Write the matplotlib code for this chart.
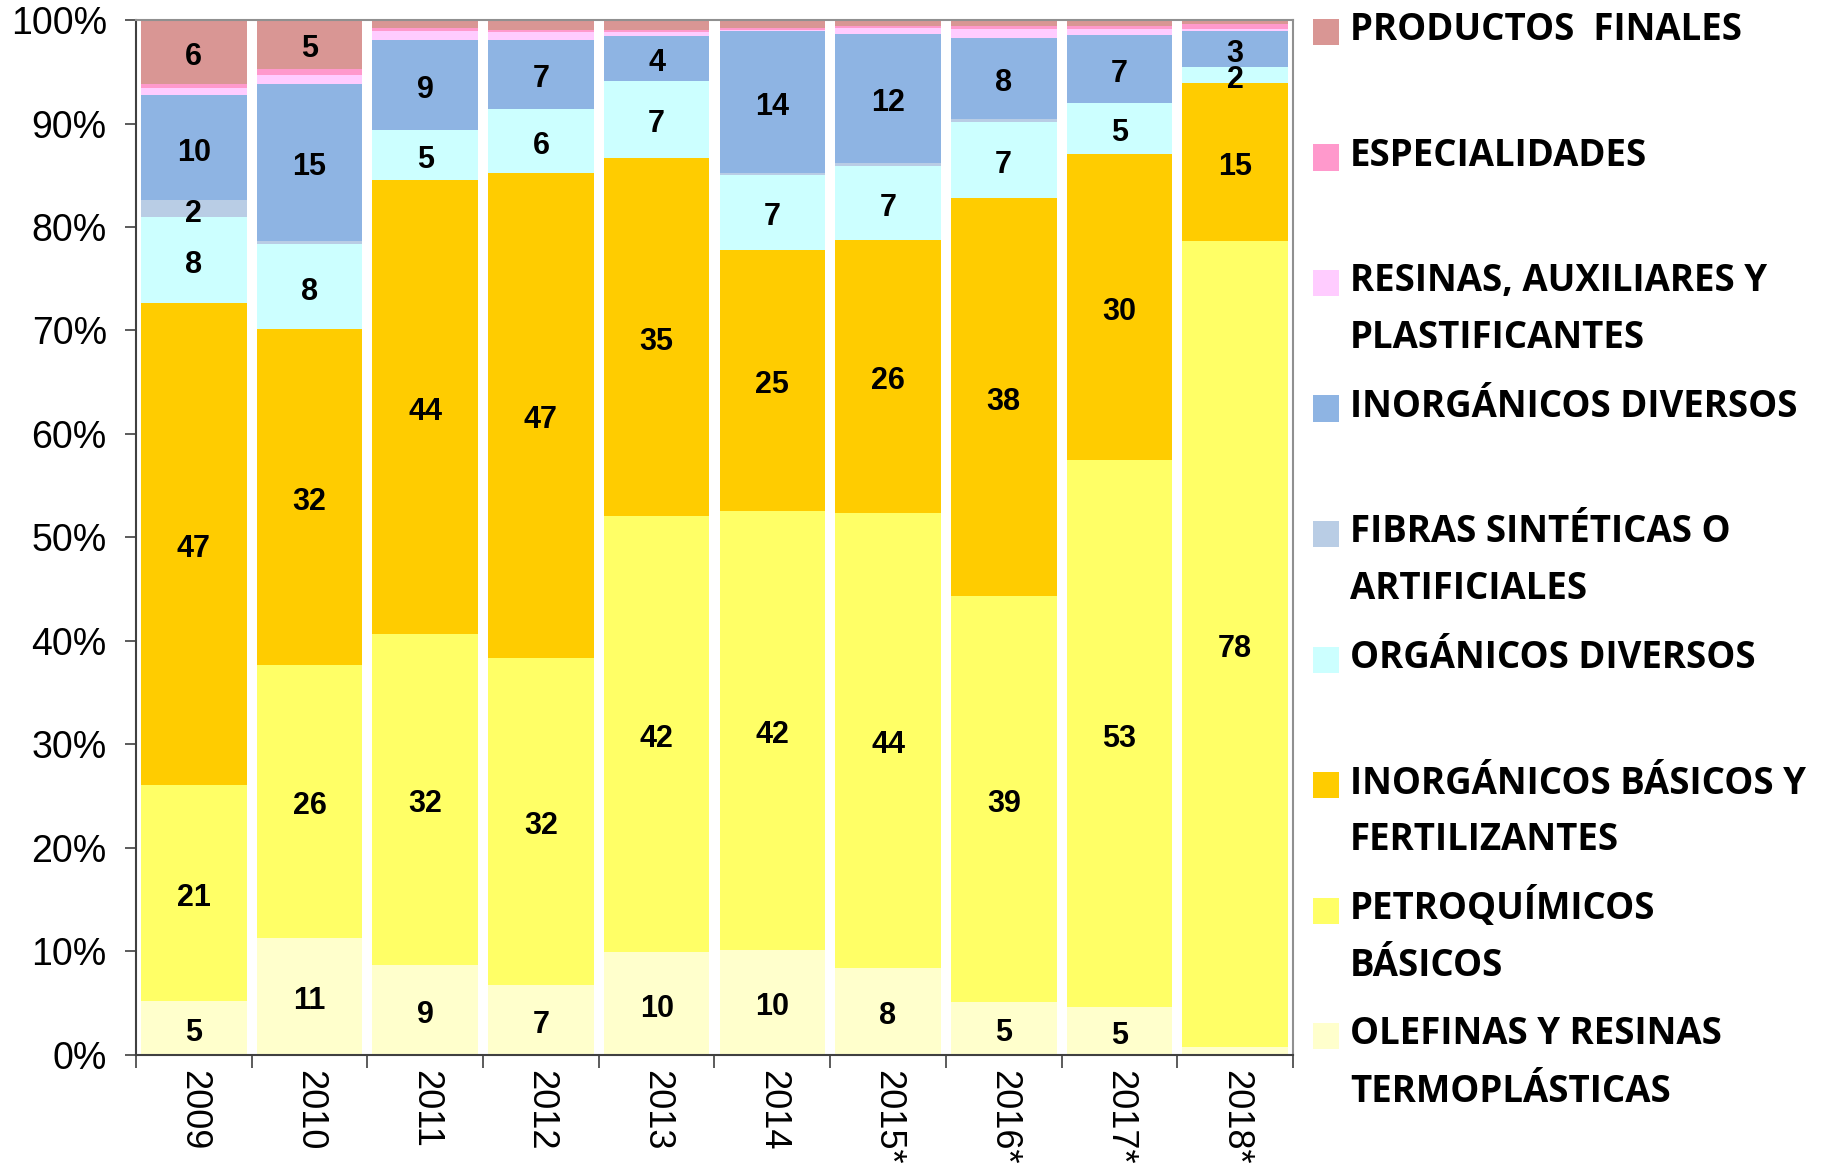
"""
Stacked 100% bar chart: composition of the chemical industry by segment, 2009-2018
"""

import matplotlib

# Specify Agg as a non-interactive back-end
matplotlib.use('Agg')

import numpy as np
import matplotlib.pyplot as plt
from matplotlib.patches import Rectangle

# Data (percent of each year's total)
years = ['2009', '2010', '2011', '2012', '2013', '2014', '2015*', '2016*', '2017*', '2018*']
olefinas = [5.2, 11.3, 8.7, 6.75, 9.9, 10.1, 8.4, 5.1, 4.6, 0.8]
petroquimicos = [20.9, 26.3, 32.0, 31.6, 42.1, 42.4, 43.9, 39.2, 52.9, 77.8]
inorg_basicos = [46.6, 32.4, 43.8, 46.8, 34.6, 25.2, 26.3, 38.4, 29.6, 15.2]
organicos = [8.3, 8.2, 4.9, 6.2, 7.4, 7.2, 7.2, 7.4, 4.9, 1.6]
fibras = [1.7, 0.3, 0.0, 0.0, 0.0, 0.15, 0.3, 0.25, 0.0, 0.0]
inorg_diversos = [10.1, 15.2, 8.7, 6.7, 4.4, 13.7, 12.4, 7.85, 6.6, 3.4]
resinas = [0.7, 0.8, 0.8, 0.7, 0.35, 0.15, 0.6, 0.8, 0.6, 0.2]
especialidades = [0.4, 0.65, 0.3, 0.2, 0.15, 0.2, 0.2, 0.3, 0.3, 0.5]
productos = [6.2, 4.7, 0.8, 1.0, 1.0, 0.75, 0.55, 0.6, 0.55, 0.4]

# Series from bottom to top of each bar
series = [
    (olefinas, '#FFFFCC', ['OLEFINAS Y RESINAS', 'TERMOPLÁSTICAS']),
    (petroquimicos, '#FFFF66', ['PETROQUÍMICOS', 'BÁSICOS']),
    (inorg_basicos, '#FFCC00', ['INORGÁNICOS BÁSICOS Y', 'FERTILIZANTES']),
    (organicos, '#CCFFFF', ['ORGÁNICOS DIVERSOS']),
    (fibras, '#B9CDE5', ['FIBRAS SINTÉTICAS O', 'ARTIFICIALES']),
    (inorg_diversos, '#8EB4E3', ['INORGÁNICOS DIVERSOS']),
    (resinas, '#FFCCFF', ['RESINAS, AUXILIARES Y', 'PLASTIFICANTES']),
    (especialidades, '#FF99CC', ['ESPECIALIDADES']),
    (productos, '#D99694', ['PRODUCTOS  FINALES']),
]

fig = plt.figure(figsize=(18.25, 11.64), dpi=100)
ax = fig.add_axes([0.0745, 0.0937, 0.634, 0.8891])

x = np.arange(len(years))
totals = np.sum([np.array(s[0]) for s in series], axis=0)
bottom = np.zeros(len(years))

for values, color, _ in series:
    pct = np.array(values) / totals * 100
    ax.bar(x, pct, width=0.913, bottom=bottom, color=color, linewidth=0)
    # Value labels in the middle of each segment (nudged down a little, like the original)
    for i, v in enumerate(pct):
        if round(v) >= 2:
            ax.annotate(f'{round(v):d}', (x[i], bottom[i] + v / 2), xytext=(0, -3.5),
                        textcoords='offset points', ha='center', va='center',
                        fontsize=22, fontweight='bold', family='Liberation Sans', color='black')
    bottom += pct

# Axes set-up
ax.set_xlim(-0.5, len(years) - 0.5)
ax.set_ylim(0, 100)
ax.set_yticks(np.arange(0, 101, 10))
ax.set_yticklabels([f'{t}%' for t in range(0, 101, 10)], family='Liberation Sans', fontsize=27)
ax.tick_params(axis='y', length=8, width=1.2, pad=13, color='#404040')

ax.set_xticks(x)
ax.set_xticklabels(years, rotation=-90, family='Liberation Sans', fontsize=26, va='top')
ax.set_xticks(np.arange(-0.5, len(years)), minor=True)
ax.tick_params(axis='x', which='major', length=0, pad=11)
ax.tick_params(axis='x', which='minor', length=9, width=1.2, color='#404040')

for side in ['left', 'bottom']:
    ax.spines[side].set_color('#404040')
    ax.spines[side].set_linewidth(1.5)
for side in ['top', 'right']:
    ax.spines[side].set_color('#909090')
    ax.spines[side].set_linewidth(1.5)

# Legend drawn by hand, top entry first
W, H = 1825.0, 1164.0
for k, (_, color, lines) in enumerate(reversed(series)):
    cy = 32 + k * 125.5
    fig.add_artist(Rectangle((1313 / W, 1 - (cy + 13) / H), 26 / W, 26 / H,
                             transform=fig.transFigure, facecolor=color, edgecolor='none'))
    for j, line in enumerate(lines):
        base = cy + 8.5 + j * 57
        fig.text(1350 / W, 1 - base / H, line, ha='left', va='baseline',
                 fontsize=26.4, fontweight='bold', family='Open Sans', color='black')

fig.savefig('out.png', dpi=100)
plt.close(fig)
